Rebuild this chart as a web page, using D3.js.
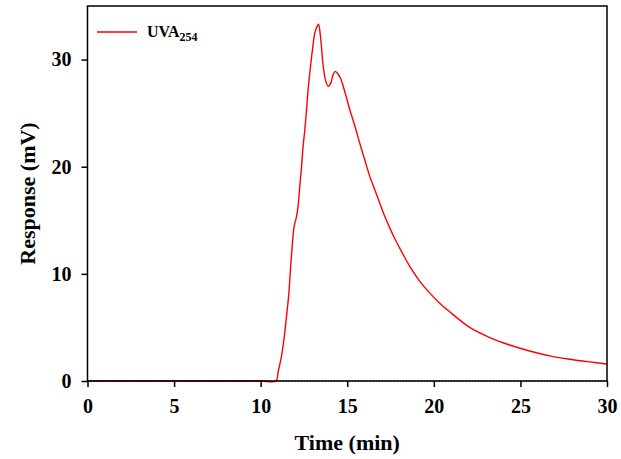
<!DOCTYPE html>
<html>
<head>
<meta charset="utf-8">
<script src="https://cdn.jsdelivr.net/npm/d3@7"></script>
<style>
  html, body { margin: 0; padding: 0; background: #fff; }
  svg { display: block; }
  text { font-family: "Liberation Serif", "Times New Roman", serif; font-weight: bold; fill: #000; }
</style>
</head>
<body>
<svg id="chart" width="621" height="459"></svg>
<script>
// ---- data ----
const time = [0, 2, 4, 6, 8, 10, 10.88, 11.01, 11.2, 11.36, 11.49, 11.63, 11.72, 11.82, 11.93, 12.07, 12.16, 12.26, 12.36, 12.45, 12.55,
  12.65, 12.74, 12.88, 12.99, 13.13, 13.26, 13.34, 13.43, 13.51, 13.61, 13.74, 13.9, 14.05, 14.18, 14.3, 14.44, 14.61, 14.86, 15.15,
  15.44, 15.72, 16.01, 16.3, 16.59, 16.88, 17.17, 17.46, 17.74, 18.13, 18.61, 19.19, 19.77, 20.34, 20.9, 22.07, 23.2, 24.38, 25.53,
  26.69, 27.84, 29.0, 30.0];
const uva254 = [0, 0, 0, 0, 0, 0, 0, 0.87, 2.3, 4.1, 6.0, 8.2, 10.4, 12.55, 14.4, 15.35, 16.3, 18.2, 20.0, 21.9, 23.45,
  25.3, 27.2, 29.4, 30.9, 32.5, 33.1, 33.3, 32.5, 31.2, 29.4, 28.1, 27.5, 27.8, 28.6, 28.9, 28.7, 28.25, 27.0, 25.3,
  23.8, 22.2, 20.65, 19.1, 17.85, 16.6, 15.35, 14.27, 13.3, 12.1, 10.7, 9.3, 8.2, 7.26, 6.48, 5.0, 4.08, 3.36, 2.8,
  2.34, 2.03, 1.78, 1.59];
const baseTime = [0, 30];
const baseline = [0, 0];
const xTicks = [0, 5, 10, 15, 20, 25, 30];
const yTicks = [0, 10, 20, 30];
const legendLabel = "UVA";
const legendSub = "254";
const xTitle = "Time (min)";
const yTitle = "Response (mV)";

// ---- layout ----
const svg = d3.select("#chart");
const L = 87.5, R = 607, T = 6, B = 381;
const x = d3.scaleLinear().domain([0, 30]).range([L, R]);
const y = d3.scaleLinear().domain([0, 35]).range([B, T]);

// baseline (dotted black)
const baseData = baseTime.map((t, i) => [t, baseline[i]]);
svg.append("path")
  .datum(baseData)
  .attr("d", d3.line().x(d => x(d[0])).y(d => y(d[1])))
  .attr("fill", "none").attr("stroke", "#000").attr("stroke-width", 1.2)
  .attr("stroke-dasharray", "1.5,1.5");

// red curve
const curve = time.map((t, i) => [t, uva254[i]]);
svg.append("path")
  .datum(curve)
  .attr("d", d3.line().curve(d3.curveCatmullRom.alpha(0.5)).x(d => x(d[0])).y(d => y(Math.max(0, d[1]))))
  .attr("fill", "none").attr("stroke", "#ff0000").attr("stroke-width", 1.4);

// frame
svg.append("rect").attr("x", L).attr("y", T).attr("width", R - L).attr("height", B - T)
  .attr("fill", "none").attr("stroke", "#000").attr("stroke-width", 1.5);

// axes
const xAxis = svg.append("g").attr("transform", `translate(0,${B})`)
  .call(d3.axisBottom(x).tickValues(xTicks).tickSize(6).tickPadding(12).tickFormat(d3.format("d")));
const yAxis = svg.append("g").attr("transform", `translate(${L},0)`)
  .call(d3.axisLeft(y).tickValues(yTicks).tickSize(6).tickPadding(10).tickFormat(d3.format("d")));
[xAxis, yAxis].forEach(a => {
  a.select(".domain").remove();
  a.selectAll(".tick line").attr("stroke", "#000").attr("stroke-width", 1.5);
  a.selectAll(".tick text").style("font-family", "'Liberation Serif', serif").style("font-weight", "bold")
    .style("font-size", "20px").attr("fill", "#000");
});

// axis titles
svg.append("text").attr("x", (L + R) / 2).attr("y", 450).attr("text-anchor", "middle")
  .style("font-size", "22px").text(xTitle);
svg.append("text").attr("transform", `translate(35,${(T + B) / 2}) rotate(-90)`)
  .attr("text-anchor", "middle").style("font-size", "22px").text(yTitle);

// legend
svg.append("line").attr("x1", 97).attr("x2", 137).attr("y1", 32).attr("y2", 32)
  .attr("stroke", "#ff0000").attr("stroke-width", 1.4);
const lt = svg.append("text").attr("x", 147).attr("y", 37).style("font-size", "16px");
lt.append("tspan").text(legendLabel);
lt.append("tspan").attr("dy", 4).style("font-size", "12px").text(legendSub);
</script>
</body>
</html>
